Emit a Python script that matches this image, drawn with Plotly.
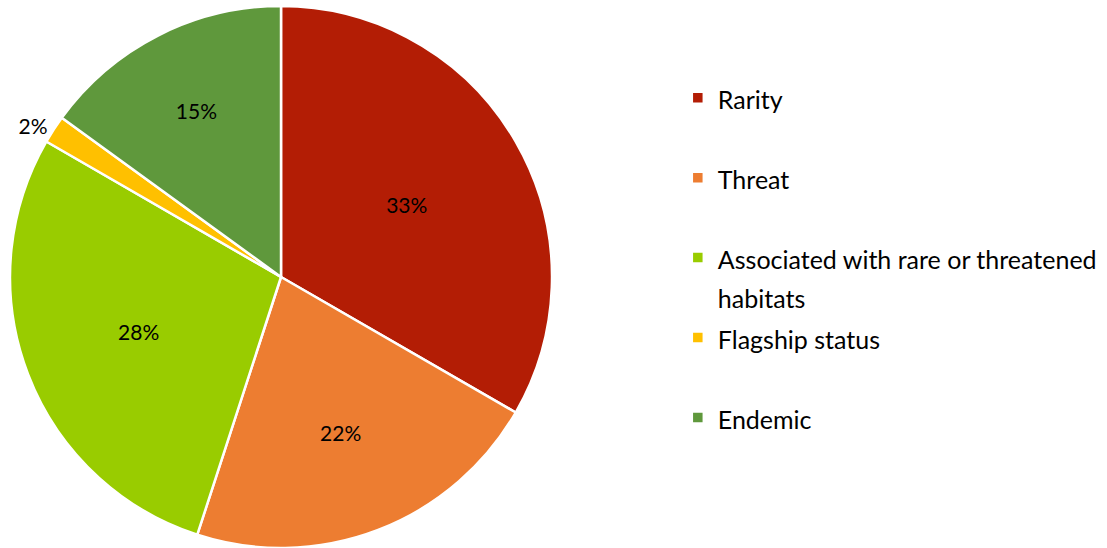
import plotly.graph_objects as go

categories = ["Rarity", "Threat", "Associated with rare or threatened<br>habitats",
              "Flagship status", "Endemic"]
values = [20, 13, 17, 1, 9]
colors = ["#B31D05", "#ED7D31", "#99CC00", "#FFC000", "#5F983C"]
text_positions = ["inside", "inside", "inside", "outside", "inside"]

LEG_FS = 29.6   # controls legend row height (Excel-like spacing)
TXT_FS = 25     # visible legend glyph size

def leg_label(c):
    parts = c.split("<br>")
    body = "<br>".join(f"<span style='font-size:{TXT_FS}px'>{p}</span>" for p in parts)
    if len(parts) == 1:
        body += "<br>\u00a0"
    return body

labels = [leg_label(c) for c in categories]

fig = go.Figure(go.Pie(
    labels=labels,
    values=values,
    sort=False,
    direction="clockwise",
    rotation=0,
    marker=dict(colors=colors, line=dict(color="white", width=2.5)),
    textinfo="percent",
    texttemplate="%{percent:.0%}",
    textposition=text_positions,
    insidetextorientation="horizontal",
    textfont=dict(family="Lato", size=21, color="#000000"),
    domain=dict(x=[0, 0.5077], y=[0, 1]),
    hoverinfo="skip",
))

fig.update_layout(
    width=1107, height=548,
    margin=dict(l=0, r=0, t=6, b=0, autoexpand=False),
    paper_bgcolor="white",
    plot_bgcolor="white",
    font=dict(family="Lato", color="#000000"),
    showlegend=True,
    legend=dict(
        x=0.6123, y=0.8783, xanchor="left", yanchor="top",
        font=dict(family="Lato", size=LEG_FS, color="#000000"),
        valign="top",
        itemwidth=30,
        bgcolor="rgba(0,0,0,0)",
    ),
)

fig.write_html("out.html", config={"displayModeBar": False},
               post_script="document.body.style.margin='0';")
